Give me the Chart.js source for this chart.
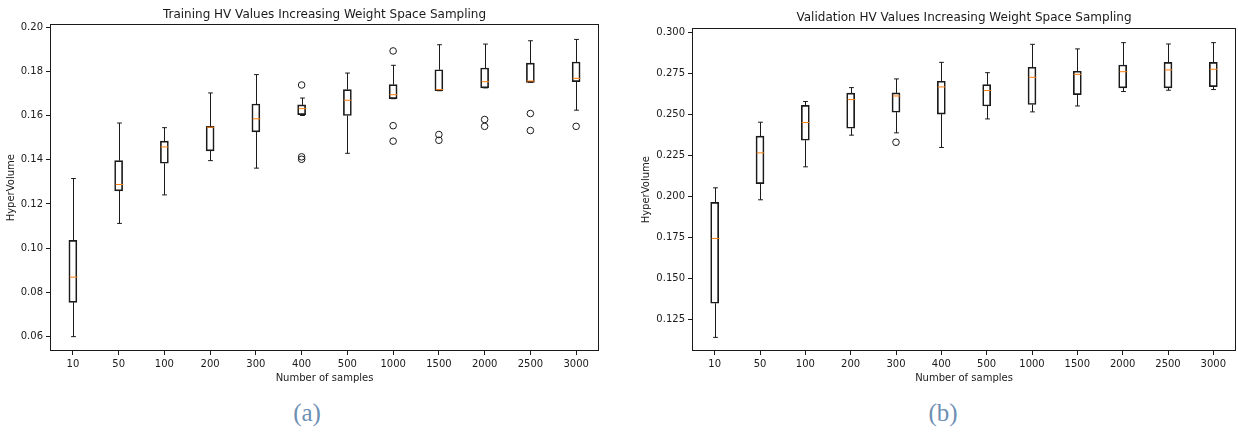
<!DOCTYPE html>
<html>
<head>
<meta charset="utf-8">
<script src="https://cdn.jsdelivr.net/npm/chart.js@4/dist/chart.umd.min.js"></script>
<style>
  html, body { margin: 0; padding: 0; background: #fff; }
  body { width: 1238px; height: 432px; position: relative; overflow: hidden; }
  canvas { position: absolute; top: 0; }
  #c1 { left: 0; }
  #c2 { left: 630px; }
  .cap { position: absolute; top: 413px; transform: translate(-50%, -50%);
         font-family: "Liberation Serif", "DejaVu Serif", serif; font-size: 25px; color: #6d8fb3; }
</style>
</head>
<body>
<canvas id="c1" width="620" height="386"></canvas>
<canvas id="c2" width="611" height="386"></canvas>
<div class="cap" style="left:307px">(a)</div>
<div class="cap" style="left:943px">(b)</div>
<script>
// ---- data ----
const categories = ['10','50','100','200','300','400','500','1000','1500','2000','2500','3000'];

const trainLow  = [0.0600,0.1112,0.1241,0.1396,0.1362,0.1600,0.1429,0.1676,0.1712,0.1725,0.1750,0.1624];
const trainQ1   = [0.0755,0.1259,0.1384,0.1440,0.1526,0.1604,0.1600,0.1676,0.1712,0.1725,0.1750,0.1753];
const trainMed  = [0.0869,0.1288,0.1458,0.1547,0.1585,0.1631,0.1669,0.1694,0.1717,0.1753,0.1756,0.1768];
const trainQ3   = [0.1035,0.1396,0.1484,0.1551,0.1652,0.1648,0.1717,0.1740,0.1807,0.1815,0.1837,0.1842];
const trainHigh = [0.1315,0.1566,0.1545,0.1702,0.1785,0.1679,0.1792,0.1827,0.1920,0.1923,0.1938,0.1944];
const trainOutCats = ['400','400','400','1000','1000','1000','1500','1500','2000','2000','2500','2500','3000'];
const trainOutVals = [0.1738,0.1413,0.1402,0.1892,0.1554,0.1484,0.1514,0.1488,0.1582,0.1551,0.1609,0.1532,0.1551];
const trainTicks = [0.06,0.08,0.10,0.12,0.14,0.16,0.18,0.20];
const trainTickLabels = ['0.06','0.08','0.10','0.12','0.14','0.16','0.18','0.20'];

const valLow  = [0.1142,0.1981,0.2182,0.2375,0.2389,0.2300,0.2474,0.2517,0.2553,0.2641,0.2649,0.2653];
const valQ1   = [0.1350,0.2080,0.2344,0.2417,0.2515,0.2503,0.2553,0.2562,0.2622,0.2663,0.2663,0.2671];
const valMed  = [0.1745,0.2267,0.2452,0.2592,0.2614,0.2669,0.2647,0.2728,0.2746,0.2762,0.2773,0.2777];
const valQ3   = [0.1965,0.2369,0.2557,0.2631,0.2633,0.2704,0.2683,0.2789,0.2765,0.2803,0.2819,0.2819];
const valHigh = [0.2054,0.2454,0.2580,0.2665,0.2718,0.2819,0.2756,0.2929,0.2901,0.2939,0.2931,0.2939];
const valOutCats = ['300'];
const valOutVals = [0.2332];
const valTicks = [0.125,0.150,0.175,0.200,0.225,0.250,0.275,0.300];
const valTickLabels = ['0.125','0.150','0.175','0.200','0.225','0.250','0.275','0.300'];

const trainTitle = 'Training HV Values Increasing Weight Space Sampling';
const valTitle = 'Validation HV Values Increasing Weight Space Sampling';

// ---- drawing ----
const FONT = '"DejaVu Sans", sans-serif';
const INK = '#1a1a1a';

const boxPlugin = {
  id: 'boxExtras',
  afterDatasetsDraw(chart) {
    const st = chart.options.plugins.boxExtras;
    const x = chart.scales.x, y = chart.scales.y;
    const ctx = chart.ctx;
    const bw = 7.6, cw = bw / 2;
    ctx.save();
    ctx.lineWidth = 1;
    for (let i = 0; i < st.low.length; i++) {
      const cx = Math.round(x.getPixelForValue(i)) + 0.5;
      const yl = y.getPixelForValue(st.low[i]);
      const y1 = y.getPixelForValue(st.q1[i]);
      const y3 = y.getPixelForValue(st.q3[i]);
      const yh = y.getPixelForValue(st.high[i]);
      const ym = y.getPixelForValue(st.med[i]);
      ctx.strokeStyle = INK;
      ctx.beginPath();
      ctx.moveTo(cx, y3); ctx.lineTo(cx, yh);
      ctx.moveTo(cx, y1); ctx.lineTo(cx, yl);
      ctx.moveTo(cx - cw / 2 - 0.5, yh); ctx.lineTo(cx + cw / 2 + 0.5, yh);
      ctx.moveTo(cx - cw / 2 - 0.5, yl); ctx.lineTo(cx + cw / 2 + 0.5, yl);
      ctx.stroke();
      ctx.strokeStyle = '#ff7f0e';
      ctx.beginPath();
      ctx.moveTo(cx - bw / 2, ym); ctx.lineTo(cx + bw / 2, ym);
      ctx.stroke();
    }
    // frame
    const a = chart.chartArea;
    ctx.strokeStyle = INK;
    ctx.lineWidth = 1;
    ctx.strokeRect(Math.round(a.left) + 0.5, Math.round(a.top) + 0.5,
                   Math.round(a.right - a.left) - 1, Math.round(a.bottom - a.top) - 1);
    ctx.restore();
  }
};

function makeChart(id, cfg) {
  return new Chart(document.getElementById(id), {
    type: 'bar',
    data: {
      labels: categories,
      datasets: [
        {
          type: 'bar',
          data: cfg.q1.map((v, i) => [v, cfg.q3[i]]),
          backgroundColor: 'rgba(0,0,0,0)',
          borderColor: INK,
          borderWidth: 1,
          borderSkipped: false,
          barThickness: 8,
          order: 2
        },
        {
          type: 'scatter',
          data: cfg.outCats.map((c, i) => ({ x: c, y: cfg.outVals[i] })),
          backgroundColor: 'rgba(0,0,0,0)',
          borderColor: INK,
          borderWidth: 1,
          pointRadius: 3.3,
          order: 1
        }
      ]
    },
    options: {
      responsive: false,
      animation: false,
      events: [],
      layout: { padding: cfg.padding },
      plugins: {
        legend: { display: false },
        tooltip: { enabled: false },
        title: {
          display: true, text: cfg.title, fullSize: false,
          color: INK, font: { family: FONT, size: 12, weight: 'normal' },
          padding: cfg.titlePad
        },
        boxExtras: { low: cfg.low, q1: cfg.q1, med: cfg.med, q3: cfg.q3, high: cfg.high }
      },
      scales: {
        x: {
          type: 'category',
          offset: true,
          grid: { display: true, drawOnChartArea: false, drawTicks: true, tickLength: 4, offset: false, color: INK },
          border: { display: false },
          ticks: { color: INK, font: { family: FONT, size: 10 }, padding: 3, maxRotation: 0 },
          title: { display: true, text: 'Number of samples', color: INK, font: { family: FONT, size: 10 }, padding: { top: 2, bottom: 2 } },
          afterFit(s) { s.height = 35; }
        },
        y: {
          type: 'linear',
          min: cfg.min, max: cfg.max,
          grid: { display: true, drawOnChartArea: false, drawTicks: true, tickLength: 4, color: INK },
          border: { display: false },
          ticks: {
            color: INK, font: { family: FONT, size: 10 }, padding: 3,
            callback: (v, i) => cfg.tickLabels[i]
          },
          afterBuildTicks(s) { s.ticks = cfg.ticks.map(v => ({ value: v })); },
          title: { display: true, text: 'HyperVolume', color: INK, font: { family: FONT, size: 10 }, padding: { top: 0, bottom: 4 } },
          afterFit(s) { s.width = cfg.yWidth; }
        }
      }
    },
    plugins: [boxPlugin]
  });
}

makeChart('c1', {
  title: trainTitle, low: trainLow, q1: trainQ1, med: trainMed, q3: trainQ3, high: trainHigh,
  outCats: trainOutCats, outVals: trainOutVals, ticks: trainTicks, tickLabels: trainTickLabels,
  min: 0.0535, max: 0.2012, padding: { left: 5, right: 21, top: 0, bottom: 0 },
  yWidth: 45, titlePad: { top: 8, bottom: 2 }
});
makeChart('c2', {
  title: valTitle, low: valLow, q1: valQ1, med: valMed, q3: valQ3, high: valHigh,
  outCats: valOutCats, outVals: valOutVals, ticks: valTicks, tickLabels: valTickLabels,
  min: 0.1059, max: 0.3026, padding: { left: 10, right: 0, top: 0, bottom: 0 },
  yWidth: 52, titlePad: { top: 11, bottom: 3 }
});
</script>
</body>
</html>
